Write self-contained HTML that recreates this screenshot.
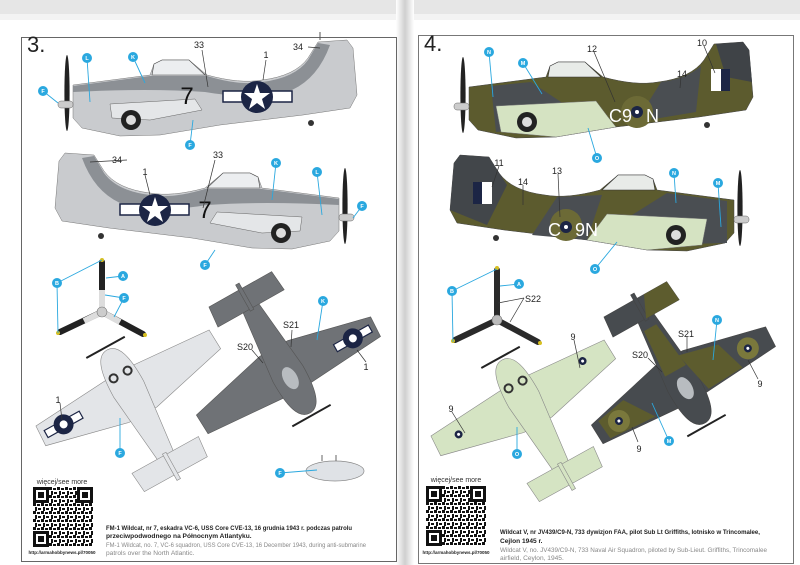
<!DOCTYPE html>
<html><head><meta charset="utf-8"><style>
html,body{margin:0;padding:0;background:#fff;}
svg{display:block;font-family:"Liberation Sans",sans-serif;}
.lb{fill:#2aa8df}.ln{stroke:#2aa8df;stroke-width:0.9;fill:none}
.bl{stroke:#333;stroke-width:0.7;fill:none}
.lt{font-size:5.5px;fill:#fff;text-anchor:middle;font-weight:bold}
.nm{font-size:9px;fill:#222;text-anchor:middle}
</style></head><body>
<svg width="800" height="565" viewBox="0 0 800 565" xmlns="http://www.w3.org/2000/svg">
<defs>
<linearGradient id="fold" x1="0" x2="1"><stop offset="0" stop-color="#fff"/><stop offset="0.5" stop-color="#cfcfcf"/><stop offset="1" stop-color="#fff"/></linearGradient>
<pattern id="qr" width="8" height="8" patternUnits="userSpaceOnUse">
<rect width="8" height="8" fill="#fff"/><rect x="0" y="0" width="3" height="3" fill="#111"/><rect x="4" y="1" width="3" height="2" fill="#111"/><rect x="2" y="4" width="2" height="4" fill="#111"/><rect x="5" y="5" width="3" height="2" fill="#111"/>
</pattern>
<g id="plan">
<polygon points="-99,32 -16,26 16,26 99,32 100,54 16,74 -16,74 -100,54"/>
<path d="M0,0 C13,0 17,18 17,45 L7,140 L-7,140 L-17,45 C-17,18 -13,0 0,0 Z"/>
<polygon points="-38,120 38,120 36,142 -36,142"/>
<rect x="-2" y="118" width="4" height="30"/>
</g>
<g id="side">
<path d="M73,92 L73,85 L150,75 L154,64 L162,60 L189,60 L207,75 Q240,84 262,80 Q295,76 308,58 L318,42 L347,40 L353,48 L357,95 L350,108 L303,115 L220,125 L160,135 L120,136 L82,128 L73,118 Z"/>
</g>
<g id="qrcode">
<rect width="60" height="60" fill="url(#qr)"/>
<rect x="0" y="0" width="16" height="16" fill="#111"/><rect x="3" y="3" width="10" height="10" fill="#fff"/><rect x="5" y="5" width="6" height="6" fill="#111"/>
<rect x="44" y="0" width="16" height="16" fill="#111"/><rect x="47" y="3" width="10" height="10" fill="#fff"/><rect x="49" y="5" width="6" height="6" fill="#111"/>
<rect x="0" y="44" width="16" height="16" fill="#111"/><rect x="3" y="47" width="10" height="10" fill="#fff"/><rect x="5" y="49" width="6" height="6" fill="#111"/>
</g>
</defs>
<rect width="800" height="565" fill="#fff"/>
<rect width="800" height="14" fill="#e6e6e6"/>
<rect x="0" y="14" width="800" height="6" fill="#f3f3f3"/>
<rect x="396" y="0" width="18" height="565" fill="url(#fold)"/>
<rect x="21.5" y="37.5" width="375" height="524" fill="none" stroke="#666" stroke-width="1"/>
<rect x="418.5" y="35.5" width="375" height="528" fill="none" stroke="#777" stroke-width="1"/>
<text x="27" y="52" font-size="22" fill="#222">3.</text>
<text x="424" y="51" font-size="22" fill="#222">4.</text>

<!-- LEFT TOP SIDE -->
<g>
<use href="#side" fill="#c9cbce" stroke="#777" stroke-width="0.5"/>
<path d="M73,86 L150,76 L207,76 Q240,86 262,82 Q295,78 308,60 L318,43 L330,45 Q318,78 292,90 Q250,100 205,92 Q150,88 73,92 Z" fill="#8c9095"/>
<path d="M154,64 L162,60 L189,60 L205,75 L152,75 Z" fill="#eceef0" stroke="#444" stroke-width="0.6"/>
<path d="M110,104 L195,99 L202,110 L150,120 L112,118 Z" fill="#e4e6e8" stroke="#666" stroke-width="0.5"/>
<circle cx="131" cy="120" r="10" fill="#222"/><circle cx="131" cy="120" r="5" fill="#ddd"/>
<rect x="223" y="91" width="69" height="11" fill="#fff" stroke="#1c2545" stroke-width="1.5"/>
<circle cx="257" cy="97" r="16" fill="#1c2545"/>
<polygon points="257,84 260,93 270,93 262,99 265,109 257,103 249,109 252,99 244,93 254,93" fill="#fff"/>
<text x="187" y="104" font-size="24" fill="#111" text-anchor="middle">7</text>
<ellipse cx="67" cy="93" rx="2.6" ry="38" fill="#222"/><rect x="58" y="101" width="15" height="7" rx="3" fill="#ccc" stroke="#666" stroke-width="0.5"/>
<circle cx="311" cy="123" r="3" fill="#333"/>
<line x1="320" y1="40" x2="320" y2="32" stroke="#555"/>
</g>
<!-- LEFT SECOND SIDE (mirrored) -->
<g transform="translate(412,113) scale(-1,1)">
<use href="#side" fill="#c9cbce" stroke="#777" stroke-width="0.5"/>
<path d="M73,86 L150,76 L207,76 Q240,86 262,82 Q295,78 308,60 L318,43 L330,45 Q318,78 292,90 Q250,100 205,92 Q150,88 73,92 Z" fill="#8c9095"/>
<path d="M154,64 L162,60 L189,60 L205,75 L152,75 Z" fill="#eceef0" stroke="#444" stroke-width="0.6"/>
<path d="M110,104 L195,99 L202,110 L150,120 L112,118 Z" fill="#e4e6e8" stroke="#666" stroke-width="0.5"/>
<circle cx="131" cy="120" r="10" fill="#222"/><circle cx="131" cy="120" r="5" fill="#ddd"/>
<rect x="223" y="91" width="69" height="11" fill="#fff" stroke="#1c2545" stroke-width="1.5"/>
<circle cx="257" cy="97" r="16" fill="#1c2545"/>
<polygon points="257,84 260,93 270,93 262,99 265,109 257,103 249,109 252,99 244,93 254,93" fill="#fff"/>
<ellipse cx="67" cy="93" rx="2.6" ry="38" fill="#222"/><rect x="58" y="101" width="15" height="7" rx="3" fill="#ccc" stroke="#666" stroke-width="0.5"/>
<circle cx="311" cy="123" r="3" fill="#333"/>
</g>
<text x="205" y="218" font-size="24" fill="#111" text-anchor="middle">7</text>

<!-- RIGHT TOP SIDE -->
<g transform="translate(396,2)">
<use href="#side" fill="#5c5b2e" stroke="#444" stroke-width="0.5"/>
<path d="M95,84 L135,80 L165,100 L150,125 L100,130 Z" fill="#4a4e52"/>
<path d="M265,80 Q290,77 305,64 L300,110 L240,120 Z" fill="#4a4e52"/>
<path d="M320,42 L347,40 L353,48 L356,80 L330,75 Z" fill="#3f4347"/>
<path d="M100,104 L200,99 L212,115 L220,125 L160,135 L105,130 Z" fill="#d5e3c2" stroke="#777" stroke-width="0.5"/>
<path d="M154,64 L162,60 L189,60 L205,75 L152,75 Z" fill="#e8ebe8" stroke="#333" stroke-width="0.6"/>
<circle cx="131" cy="120" r="10" fill="#222"/><circle cx="131" cy="120" r="5" fill="#ddd"/>
<circle cx="241" cy="110" r="16" fill="#6c6a36"/>
<rect x="315" y="67" width="10" height="22" fill="#fff"/><rect x="325" y="67" width="9" height="22" fill="#1c2545"/>
<ellipse cx="67" cy="93" rx="2.6" ry="38" fill="#222"/><rect x="58" y="101" width="15" height="7" rx="3" fill="#ccc" stroke="#666" stroke-width="0.5"/>
<circle cx="311" cy="123" r="3" fill="#333"/>
</g>
<text x="609" y="122" font-size="18" fill="#fff">C9</text><circle cx="637" cy="112" r="6" fill="#1c2545"/><circle cx="637" cy="112" r="2" fill="#fff"/><text x="646" y="122" font-size="18" fill="#fff">N</text>
<!-- RIGHT SECOND SIDE -->
<g transform="translate(807,115) scale(-1,1)">
<use href="#side" fill="#5c5b2e" stroke="#444" stroke-width="0.5"/>
<path d="M80,86 L140,78 L175,100 L160,130 L80,128 Z" fill="#4a4e52"/>
<path d="M205,80 L250,82 L275,120 L220,125 Z" fill="#4a4e52"/>
<path d="M300,70 L318,42 L347,40 L353,48 L357,95 L320,110 Z" fill="#42464a"/>
<path d="M100,104 L200,99 L212,115 L220,125 L160,135 L105,130 Z" fill="#d5e3c2" stroke="#777" stroke-width="0.5"/>
<path d="M154,64 L162,60 L189,60 L205,75 L152,75 Z" fill="#e8ebe8" stroke="#333" stroke-width="0.6"/>
<circle cx="131" cy="120" r="10" fill="#222"/><circle cx="131" cy="120" r="5" fill="#ddd"/>
<circle cx="241" cy="110" r="16" fill="#6c6a36"/>
<rect x="315" y="67" width="10" height="22" fill="#fff"/><rect x="325" y="67" width="9" height="22" fill="#1c2545"/>
<ellipse cx="67" cy="93" rx="2.6" ry="38" fill="#222"/><rect x="58" y="101" width="15" height="7" rx="3" fill="#ccc" stroke="#666" stroke-width="0.5"/>
<circle cx="311" cy="123" r="3" fill="#333"/>
</g>
<text x="548" y="236" font-size="18" fill="#fff">C</text><circle cx="566" cy="227" r="6" fill="#1c2545"/><circle cx="566" cy="227" r="2" fill="#fff"/><text x="575" y="236" font-size="18" fill="#fff">9N</text>

<!-- PROPELLERS -->
<g>
<line x1="102" y1="312" x2="102" y2="262" stroke="#222" stroke-width="6" stroke-linecap="round"/>
<line x1="102" y1="312" x2="102" y2="290" stroke="#ddd" stroke-width="6"/>
<line x1="102" y1="312" x2="60" y2="332" stroke="#222" stroke-width="6" stroke-linecap="round"/>
<line x1="102" y1="312" x2="84" y2="321" stroke="#ddd" stroke-width="6"/>
<line x1="102" y1="312" x2="143" y2="334" stroke="#222" stroke-width="6" stroke-linecap="round"/>
<line x1="102" y1="312" x2="120" y2="322" stroke="#ddd" stroke-width="6"/>
<circle cx="102" cy="312" r="5" fill="#ccc" stroke="#777" stroke-width="0.6"/>
<circle cx="102" cy="260" r="2" fill="#d8c020"/><circle cx="58" cy="333" r="2" fill="#d8c020"/><circle cx="145" cy="335" r="2" fill="#d8c020"/>
</g>
<g transform="translate(395,8)">
<line x1="102" y1="312" x2="102" y2="262" stroke="#2a2a2a" stroke-width="6" stroke-linecap="round"/>
<line x1="102" y1="312" x2="60" y2="332" stroke="#2a2a2a" stroke-width="6" stroke-linecap="round"/>
<line x1="102" y1="312" x2="143" y2="334" stroke="#2a2a2a" stroke-width="6" stroke-linecap="round"/>
<circle cx="102" cy="312" r="5" fill="#bbb" stroke="#777" stroke-width="0.6"/>
<circle cx="102" cy="260" r="2" fill="#d8c020"/><circle cx="58" cy="333" r="2" fill="#d8c020"/><circle cx="145" cy="335" r="2" fill="#d8c020"/>
</g>

<!-- PLAN VIEWS LEFT -->
<g transform="translate(107,350) rotate(-29)">
<use href="#plan" fill="#e3e5e8" stroke="#888" stroke-width="0.6"/>
<line x1="-22" y1="-3" x2="22" y2="-3" stroke="#222" stroke-width="2"/>
<circle cx="-8" cy="28" r="4" fill="none" stroke="#333" stroke-width="2"/><circle cx="8" cy="28" r="4" fill="none" stroke="#333" stroke-width="2"/>
<rect x="-94" y="40" width="40" height="8" fill="#fff" stroke="#1c2545" stroke-width="1.2"/>
<circle cx="-74" cy="44" r="10" fill="#1c2545"/><circle cx="-74" cy="44" r="4" fill="#fff"/>
</g>
<g transform="translate(310,413) rotate(150.6)">
<use href="#plan" fill="#6f7276" stroke="#555" stroke-width="0.6"/>
<line x1="-22" y1="-3" x2="22" y2="-3" stroke="#222" stroke-width="2"/>
<ellipse cx="0" cy="40" rx="7" ry="12" fill="#b8bcc0"/>
<rect x="-94" y="40" width="40" height="8" fill="#fff" stroke="#1c2545" stroke-width="1.2"/>
<circle cx="-74" cy="44" r="10" fill="#1c2545"/><circle cx="-74" cy="44" r="4" fill="#fff"/>
</g>
<!-- PLAN VIEWS RIGHT -->
<g transform="translate(502,360) rotate(-29)">
<use href="#plan" fill="#d5e4c3" stroke="#888" stroke-width="0.6"/>
<line x1="-22" y1="-3" x2="22" y2="-3" stroke="#222" stroke-width="2"/>
<circle cx="-8" cy="28" r="4" fill="none" stroke="#333" stroke-width="2"/><circle cx="8" cy="28" r="4" fill="none" stroke="#333" stroke-width="2"/>
<circle cx="-74" cy="44" r="4" fill="#1c2545"/><circle cx="-74" cy="44" r="1.5" fill="#fff"/>
<circle cx="70" cy="40" r="4" fill="#1c2545"/><circle cx="70" cy="40" r="1.5" fill="#fff"/>
</g>
<g transform="translate(705,423) rotate(150.6)">
<use href="#plan" fill="#474b4f" stroke="#444" stroke-width="0.6"/>
<polygon points="-60,30 -20,28 -10,72 -50,62" fill="#5d5c2e"/>
<polygon points="40,30 90,33 92,54 60,60" fill="#5d5c2e"/>
<polygon points="-12,60 12,60 8,110 -6,110" fill="#5d5c2e"/>
<polygon points="-38,120 0,120 -10,142 -36,142" fill="#5d5c2e"/>
<line x1="-22" y1="-3" x2="22" y2="-3" stroke="#222" stroke-width="2"/>
<ellipse cx="0" cy="40" rx="7" ry="12" fill="#b8bcc0"/>
<circle cx="-74" cy="44" r="11" fill="#7a783c"/><circle cx="-74" cy="44" r="4" fill="#1c2545"/><circle cx="-74" cy="44" r="1.5" fill="#fff"/>
<circle cx="74" cy="44" r="11" fill="#7a783c"/><circle cx="74" cy="44" r="4" fill="#1c2545"/><circle cx="74" cy="44" r="1.5" fill="#fff"/>
</g>
<!-- drop tank -->
<ellipse cx="335" cy="471" rx="29" ry="10" fill="#dfe2e6" stroke="#888" stroke-width="0.7"/>
<line x1="322" y1="461" x2="322" y2="455" stroke="#666"/><line x1="336" y1="461" x2="336" y2="455" stroke="#666"/>

<!-- LABELS LEFT -->
<g class="ln">
<line x1="87" y1="58" x2="90" y2="102"/><line x1="133" y1="57" x2="145" y2="83"/><line x1="43" y1="91" x2="58" y2="103"/><line x1="190" y1="145" x2="193" y2="120"/>
<line x1="276" y1="163" x2="272" y2="200"/><line x1="317" y1="172" x2="322" y2="215"/><line x1="362" y1="206" x2="353" y2="218"/><line x1="205" y1="265" x2="215" y2="250"/>
<line x1="57" y1="283" x2="102" y2="260"/><line x1="57" y1="283" x2="58" y2="333"/><line x1="123" y1="276" x2="106" y2="278"/><line x1="124" y1="298" x2="105" y2="295"/><line x1="124" y1="298" x2="114" y2="317"/>
<line x1="323" y1="301" x2="317" y2="340"/><line x1="120" y1="453" x2="120" y2="418"/><line x1="280" y1="473" x2="317" y2="470"/>
</g>
<g class="bl">
<line x1="202" y1="50" x2="208" y2="87"/><line x1="266" y1="60" x2="263" y2="80"/><line x1="308" y1="47" x2="320" y2="48"/>
<line x1="127" y1="160" x2="90" y2="162"/><line x1="145" y1="175" x2="150" y2="195"/><line x1="215" y1="160" x2="203" y2="208"/>
<line x1="292" y1="330" x2="291" y2="347"/><line x1="252" y1="350" x2="263" y2="363"/><line x1="366" y1="362" x2="357" y2="350"/><line x1="60" y1="403" x2="62" y2="420"/>
</g>
<g>
<circle class="lb" cx="87" cy="58" r="5"/><text class="lt" x="87" y="60">L</text>
<circle class="lb" cx="133" cy="57" r="5"/><text class="lt" x="133" y="59">K</text>
<circle class="lb" cx="43" cy="91" r="5"/><text class="lt" x="43" y="93">F</text>
<circle class="lb" cx="190" cy="145" r="5"/><text class="lt" x="190" y="147">F</text>
<circle class="lb" cx="276" cy="163" r="5"/><text class="lt" x="276" y="165">K</text>
<circle class="lb" cx="317" cy="172" r="5"/><text class="lt" x="317" y="174">L</text>
<circle class="lb" cx="362" cy="206" r="5"/><text class="lt" x="362" y="208">F</text>
<circle class="lb" cx="205" cy="265" r="5"/><text class="lt" x="205" y="267">F</text>
<circle class="lb" cx="57" cy="283" r="5"/><text class="lt" x="57" y="285">B</text>
<circle class="lb" cx="123" cy="276" r="5"/><text class="lt" x="123" y="278">A</text>
<circle class="lb" cx="124" cy="298" r="5"/><text class="lt" x="124" y="300">F</text>
<circle class="lb" cx="323" cy="301" r="5"/><text class="lt" x="323" y="303">K</text>
<circle class="lb" cx="120" cy="453" r="5"/><text class="lt" x="120" y="455">F</text>
<circle class="lb" cx="280" cy="473" r="5"/><text class="lt" x="280" y="475">F</text>
</g>
<g class="nm">
<text x="199" y="48">33</text><text x="266" y="58">1</text><text x="298" y="50">34</text>
<text x="117" y="163">34</text><text x="145" y="175">1</text><text x="218" y="158">33</text>
<text x="291" y="328">S21</text><text x="245" y="350">S20</text><text x="366" y="370">1</text><text x="58" y="403">1</text>
</g>

<!-- LABELS RIGHT -->
<g class="ln">
<line x1="489" y1="52" x2="493" y2="97"/><line x1="523" y1="63" x2="542" y2="94"/><line x1="597" y1="158" x2="588" y2="128"/>
<line x1="674" y1="173" x2="676" y2="203"/><line x1="718" y1="183" x2="721" y2="227"/><line x1="595" y1="269" x2="617" y2="242"/>
<line x1="452" y1="291" x2="497" y2="269"/><line x1="452" y1="291" x2="453" y2="342"/><line x1="519" y1="284" x2="500" y2="286"/>
<line x1="517" y1="454" x2="517" y2="427"/><line x1="717" y1="320" x2="713" y2="360"/><line x1="669" y1="441" x2="652" y2="403"/>
</g>
<g class="bl">
<line x1="594" y1="52" x2="615" y2="102"/><line x1="704" y1="46" x2="715" y2="73"/><line x1="681" y1="77" x2="680" y2="88"/>
<line x1="499" y1="166" x2="492" y2="187"/><line x1="523" y1="185" x2="523" y2="205"/><line x1="558" y1="174" x2="560" y2="217"/>
<line x1="524" y1="298" x2="498" y2="303"/><line x1="524" y1="298" x2="510" y2="322"/>
<line x1="574" y1="340" x2="580" y2="368"/><line x1="452" y1="412" x2="465" y2="433"/>
<line x1="687" y1="337" x2="687" y2="352"/><line x1="648" y1="358" x2="662" y2="372"/><line x1="758" y1="379" x2="748" y2="360"/><line x1="638" y1="442" x2="632" y2="427"/>
</g>
<g>
<circle class="lb" cx="489" cy="52" r="5"/><text class="lt" x="489" y="54">N</text>
<circle class="lb" cx="523" cy="63" r="5"/><text class="lt" x="523" y="65">M</text>
<circle class="lb" cx="597" cy="158" r="5"/><text class="lt" x="597" y="160">O</text>
<circle class="lb" cx="674" cy="173" r="5"/><text class="lt" x="674" y="175">N</text>
<circle class="lb" cx="718" cy="183" r="5"/><text class="lt" x="718" y="185">M</text>
<circle class="lb" cx="595" cy="269" r="5"/><text class="lt" x="595" y="271">O</text>
<circle class="lb" cx="452" cy="291" r="5"/><text class="lt" x="452" y="293">B</text>
<circle class="lb" cx="519" cy="284" r="5"/><text class="lt" x="519" y="286">A</text>
<circle class="lb" cx="517" cy="454" r="5"/><text class="lt" x="517" y="456">O</text>
<circle class="lb" cx="717" cy="320" r="5"/><text class="lt" x="717" y="322">N</text>
<circle class="lb" cx="669" cy="441" r="5"/><text class="lt" x="669" y="443">M</text>
</g>
<g class="nm">
<text x="592" y="52">12</text><text x="702" y="46">10</text><text x="682" y="77">14</text>
<text x="499" y="166">11</text><text x="523" y="185">14</text><text x="557" y="174">13</text>
<text x="533" y="302">S22</text><text x="573" y="340">9</text><text x="451" y="412">9</text>
<text x="686" y="337">S21</text><text x="640" y="358">S20</text><text x="760" y="387">9</text><text x="639" y="452">9</text>
</g>

<!-- QR + captions LEFT -->
<text x="62" y="484" font-size="7" fill="#333" text-anchor="middle">więcej/see more</text>
<use href="#qrcode" x="33" y="487"/>
<text x="62" y="554" font-size="4.5" fill="#222" text-anchor="middle" font-weight="bold">http://armahobbynews.pl/70050</text>
<g font-size="6.6">
<text x="106" y="530" fill="#222" font-weight="bold" textLength="246" lengthAdjust="spacingAndGlyphs">FM-1 Wildcat, nr 7, eskadra VC-6, USS Core CVE-13, 16 grudnia 1943 r. podczas patrolu</text>
<text x="106" y="538" fill="#222" font-weight="bold">przeciwpodwodnego na Północnym Atlantyku.</text>
<text x="106" y="547" fill="#888" textLength="260" lengthAdjust="spacingAndGlyphs">FM-1 Wildcat, no. 7, VC-6 squadron, USS Core CVE-13, 16 December 1943, during anti-submarine</text>
<text x="106" y="555" fill="#888">patrols over the North Atlantic.</text>
</g>
<!-- QR + captions RIGHT -->
<text x="456" y="482" font-size="7" fill="#333" text-anchor="middle">więcej/see more</text>
<use href="#qrcode" x="426" y="486"/>
<text x="456" y="554" font-size="4.5" fill="#222" text-anchor="middle" font-weight="bold">http://armahobbynews.pl/70050</text>
<g font-size="6.6">
<text x="500" y="534" fill="#222" font-weight="bold" textLength="260" lengthAdjust="spacingAndGlyphs">Wildcat V, nr JV439/C9-N, 733 dywizjon FAA, pilot Sub Lt Griffiths, lotnisko w Trincomalee,</text>
<text x="500" y="543" fill="#222" font-weight="bold">Cejlon 1945 r.</text>
<text x="500" y="552" fill="#888" textLength="267" lengthAdjust="spacingAndGlyphs">Wildcat V, no. JV439/C9-N, 733 Naval Air Squadron, piloted by Sub-Lieut. Griffiths, Trincomalee</text>
<text x="500" y="560" fill="#888">airfield, Ceylon, 1945.</text>
</g>
</svg>
</body></html>
